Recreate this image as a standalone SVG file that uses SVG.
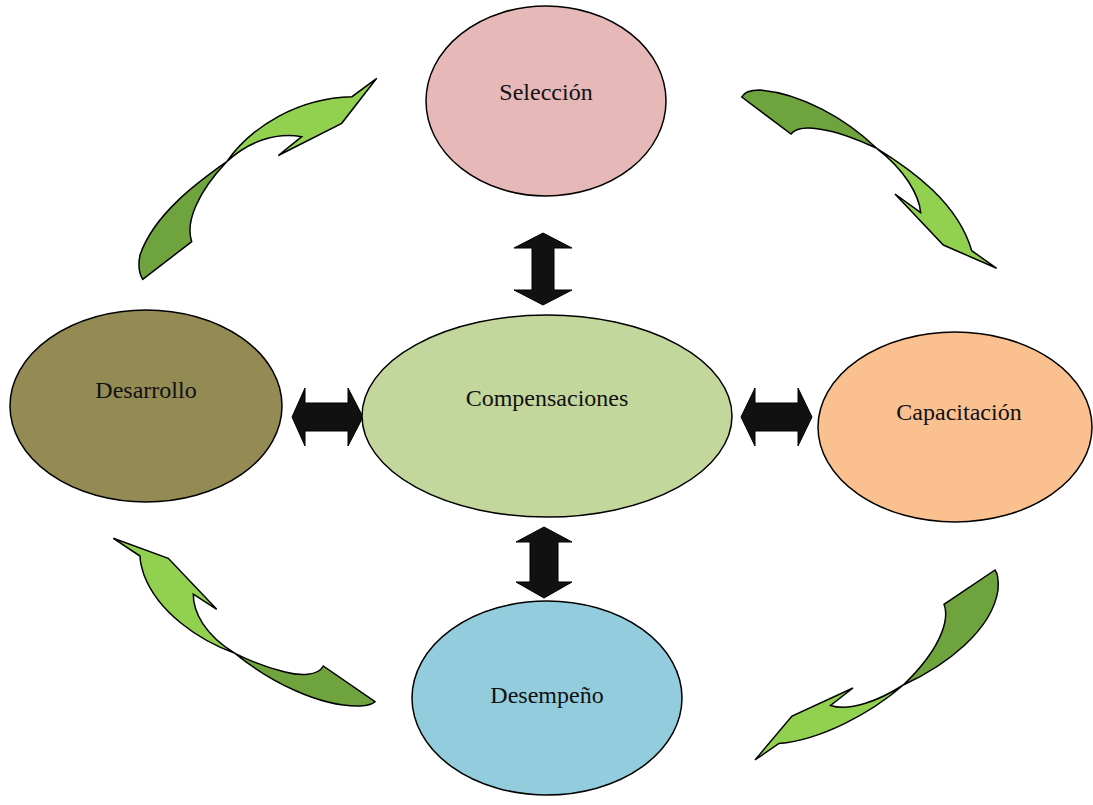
<svg xmlns="http://www.w3.org/2000/svg" width="1093" height="805" viewBox="0 0 1093 805">
  <style>
    .node { stroke: #000; stroke-width: 1.5; }
    .label { font-family: "Liberation Serif", "Times New Roman", serif; font-size: 24px; fill: #111; text-anchor: middle; }
    .dbl { fill: #111; stroke: #000; stroke-width: 1; }
    .lite { fill: #92D050; stroke: #000; stroke-width: 1.5; stroke-linejoin: miter; }
    .dark { fill: #6FA33E; stroke: #000; stroke-width: 1.5; stroke-linejoin: miter; }
  </style>
  <rect width="1093" height="805" fill="#fff"/>

  <!-- curved cycle arrows and double-headed links -->
  <g id="connectors">
    <!-- Desarrollo -> Selección -->
    <path class="dark" d="M226.7,161.7 C198,182 154,214 140,255 Q137,270 142.7,279.3 L191.7,241.7 C185,222 198,192 226.7,161.7 Z"/>
    <path class="lite" d="M226.7,161.7 C252,126 298,98 352,96.7 L376.7,78.3 L341.7,123.3 L278.3,155.5 L301.7,136.7 C275,132 248,142 226.7,161.7 Z"/>

    <!-- Selección -> Capacitación -->
    <path class="dark" d="M741.7,97 L791,134 C798,125 825,124 876.7,148.3 C845,118 800,93 760,90 Q745,90 741.7,97 Z"/>
    <path class="lite" d="M876.7,148.3 C912,170 958,203 971.7,250.7 L996.7,268.3 L943.3,245 L895,194 L920.7,212.7 C919,195 905,170 876.7,148.3 Z"/>

    <!-- Capacitación -> Desempeño -->
    <path class="dark" d="M995,570 L944,604.3 C950,620 940,650 903.3,685 C947,665 992,630 998,590 Q999,575 995,570 Z"/>
    <path class="lite" d="M903.3,685 C870,714 820,740 779,743.5 L755,760 L792,716 L853,688 L830.5,705.5 C850,712 880,700 903.3,685 Z"/>

    <!-- Desempeño -> Desarrollo -->
    <path class="dark" d="M235,653.3 C270,682 320,707 360,706 Q372,705 375,701.7 L323.3,666 C318,676 300,676 285,672 C265,667 250,661 235,653.3 Z"/>
    <path class="lite" d="M113.3,538.3 L168.3,558.3 L216.7,609.3 L193.3,594 C193,612 205,635 235,653.3 C198,640 158,612 144,575 Q140,563 140,556 Z"/>

    <!-- Compensaciones <-> Selección -->
    <path class="dbl" d="M543,233 L572,248 L554,248 L554,290 L572,290 L543,305 L514,290 L532,290 L532,248 L514,248 Z"/>
    <!-- Compensaciones <-> Desempeño -->
    <path class="dbl" d="M544,527 L572,542 L558,542 L558,582 L572,582 L544,598 L516,582 L530,582 L530,542 L516,542 Z"/>
    <!-- Compensaciones <-> Desarrollo -->
    <path class="dbl" d="M292,417 L305,388 L305,403 L348,403 L348,388 L363,417 L348,446 L348,431 L305,431 L305,446 Z"/>
    <!-- Compensaciones <-> Capacitación -->
    <path class="dbl" d="M741,417 L755,388 L755,403 L798,403 L798,388 L812,417 L798,446 L798,431 L755,431 L755,446 Z"/>
  </g>

  <g id="seleccion">
    <ellipse class="node" cx="546" cy="101" rx="120" ry="95" fill="#E6B8B7"/>
    <text class="label" x="546" y="100">Selección</text>
  </g>
  <g id="compensaciones">
    <ellipse class="node" cx="547" cy="416" rx="185" ry="101" fill="#C3D69B"/>
    <text class="label" x="547" y="406">Compensaciones</text>
  </g>
  <g id="desarrollo">
    <ellipse class="node" cx="146" cy="406" rx="136" ry="96" fill="#948A54"/>
    <text class="label" x="146" y="398">Desarrollo</text>
  </g>
  <g id="capacitacion">
    <ellipse class="node" cx="955" cy="427" rx="137" ry="95" fill="#FAC090"/>
    <text class="label" x="959" y="420">Capacitación</text>
  </g>
  <g id="desempeno">
    <ellipse class="node" cx="547" cy="698" rx="135" ry="97" fill="#93CDDD"/>
    <text class="label" x="547" y="703">Desempeño</text>
  </g>
</svg>
